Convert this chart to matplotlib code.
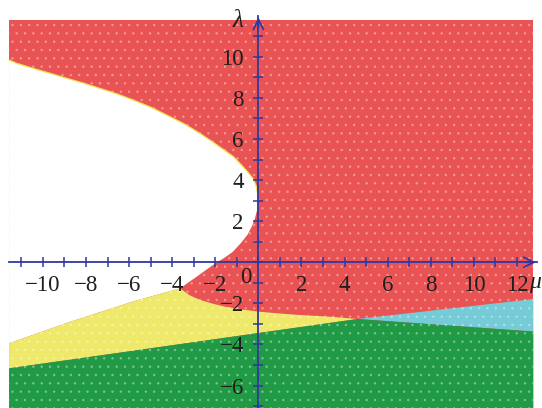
import numpy as np
import matplotlib
matplotlib.use("Agg")
import matplotlib.pyplot as plt

# plot window (data units)
MU_MIN, MU_MAX = -11.57, 12.76
LAM_MIN, LAM_MAX = -7.09, 11.78

# white region edge: upper branch -> nose -> down to the red tip
white_mu = [-11.57, -11.21, -10.44, -9.65, -8.89, -8.10, -7.35, -6.55, -5.80, -5.00,
            -4.25, -3.45, -2.71, -2.10, -1.60, -1.16, -0.80, -0.50, -0.23, -0.10,
            -0.04, -0.03, -0.07, -0.17, -0.30, -0.50, -0.80, -1.20, -1.60, -1.93,
            -2.40, -2.86, -3.30, -3.63]
white_lam = [9.84, 9.68, 9.43, 9.19, 8.95, 8.71, 8.46, 8.19, 7.89, 7.55,
             7.16, 6.74, 6.27, 5.84, 5.47, 5.14, 4.75, 4.40, 4.05, 3.70,
             3.30, 2.90, 2.50, 2.10, 1.75, 1.35, 0.95, 0.50, 0.20, 0.00,
             -0.35, -0.70, -1.02, -1.27]

# white / yellow edge (tip -> left border)
yel_top_mu = [-3.63, -5.80, -8.89, -11.57]
yel_top_lam = [-1.27, -1.90, -2.95, -3.94]

# red / yellow edge (tip -> junction)
red_bot_mu = [-3.63, -3.20, -2.71, -2.10, -1.55, -0.80, 0.0, 0.85, 1.7, 2.5, 3.33, 4.6]
red_bot_lam = [-1.27, -1.60, -1.83, -2.02, -2.16, -2.29, -2.40, -2.48, -2.55, -2.60, -2.65, -2.76]

# yellow / green edge
grn_top_mu = [-11.57, 4.6]
grn_top_lam = [-5.16, -2.76]

# red / cyan and cyan / green edges
cyan_top_mu = [4.6, 12.76]
cyan_top_lam = [-2.76, -1.79]
cyan_bot_mu = [4.6, 12.76]
cyan_bot_lam = [-2.76, -3.37]

x_ticks = list(range(-11, 13))
x_labels = [str(t).replace("-", "\u2212") if t % 2 == 0 and t != 0 else "" for t in x_ticks]
y_ticks = list(range(-7, 12))
y_labels = [str(t).replace("-", "\u2212") if t % 2 == 0 and t != 0 else "" for t in y_ticks]

RED = "#e95354"
YELLOW = "#efe96b"
GREEN = "#219a46"
CYAN = "#75cbd6"
BLUE = "#2f38a0"
SPECK = (1, 1, 1, 0.3)

plt.rcParams["font.family"] = ["Liberation Serif", "DejaVu Serif"]
plt.rcParams["hatch.linewidth"] = 0.6

fig = plt.figure(figsize=(5.42, 4.08), dpi=100)
ax = fig.add_axes([0, 0, 1, 1])
ax.set_xlim(-11.99, 13.16)
ax.set_ylim(-7.09, 12.76)
ax.set_axisbelow(False)


def region(mu, lam, color, z):
    ax.fill(mu, lam, color=color, lw=0, zorder=z)
    ax.fill(mu, lam, facecolor="none", edgecolor=SPECK, lw=0, hatch="..", zorder=z + 0.01)


# red background
region([MU_MIN, MU_MAX, MU_MAX, MU_MIN], [LAM_MAX, LAM_MAX, LAM_MIN, LAM_MIN], RED, 0.1)

# white hole
ax.fill(white_mu + yel_top_mu[1:], white_lam + yel_top_lam[1:], color="white", lw=0, zorder=0.3)
ax.plot(white_mu[:21], white_lam[:21], color="#f2e24a", lw=0.9, zorder=0.35)

# yellow band
yel_mu = yel_top_mu + [MU_MIN] + grn_top_mu[1:] + red_bot_mu[::-1]
yel_lam = yel_top_lam + [grn_top_lam[0]] + grn_top_lam[1:] + red_bot_lam[::-1]
region(yel_mu, yel_lam, YELLOW, 0.3)

# cyan wedge
region(cyan_top_mu + cyan_bot_mu[::-1], cyan_top_lam + cyan_bot_lam[::-1], CYAN, 0.3)

# green bottom
gr_mu = grn_top_mu + cyan_bot_mu[1:] + [MU_MAX, MU_MIN]
gr_lam = grn_top_lam + cyan_bot_lam[1:] + [LAM_MIN, LAM_MIN]
region(gr_mu, gr_lam, GREEN, 0.3)

# axes through the origin
for side in ["top", "right"]:
    ax.spines[side].set_visible(False)
ax.spines["left"].set_position(("data", 0))
ax.spines["bottom"].set_position(("data", 0))
ax.spines["left"].set_bounds(LAM_MIN, 12.0)
ax.spines["bottom"].set_bounds(MU_MIN, 12.95)
for side in ["left", "bottom"]:
    ax.spines[side].set_color(BLUE)
    ax.spines[side].set_linewidth(1.3)

ax.set_xticks(x_ticks)
ax.set_xticklabels(x_labels)
ax.set_yticks(y_ticks)
ax.set_yticklabels(y_labels)
ax.tick_params(direction="inout", length=7, width=1.1, color=BLUE,
               labelsize=16.5, labelcolor="#1e1e1e")
ax.tick_params(axis="x", pad=6)
ax.tick_params(axis="y", pad=7)

ax.annotate("", xy=(13.0, 0), xytext=(12.3, 0),
            arrowprops=dict(arrowstyle="->", color=BLUE, lw=1.3, mutation_scale=18),
            zorder=6)
ax.annotate("", xy=(0, 12.05), xytext=(0, 11.3),
            arrowprops=dict(arrowstyle="->", color=BLUE, lw=1.3, mutation_scale=18),
            zorder=6)

ax.text(-0.6, -0.75, "0", fontsize=16.5, color="#1e1e1e", ha="center", va="center", zorder=6)
ax.text(12.55, -1.0, "\u03bc", fontsize=17, style="italic", color="#1e1e1e",
        ha="left", va="center", zorder=6)
ax.text(-0.95, 11.72, "\u03bb", fontsize=18, style="italic", color="#1e1e1e",
        ha="center", va="center", zorder=6)

fig.savefig("out.png", dpi=100)
